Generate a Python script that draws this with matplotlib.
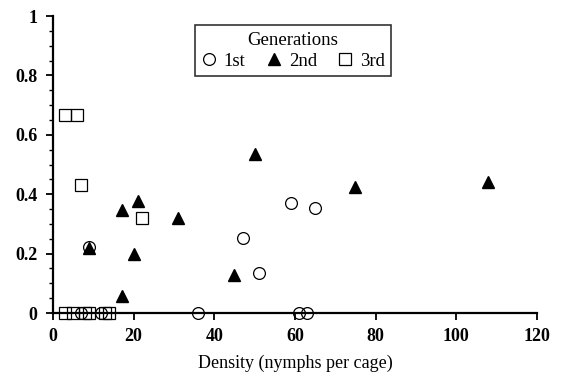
import matplotlib
matplotlib.use("Agg")
from matplotlib import pyplot as plt
from matplotlib.ticker import MultipleLocator

# 1st generation
gen1_x = [9, 47, 51, 59, 65, 36, 61, 63, 7, 12]
gen1_y = [0.222, 0.254, 0.136, 0.371, 0.352, 0, 0, 0, 0, 0]

# 2nd generation
gen2_x = [9, 17, 21, 20, 17, 31, 50, 45, 75, 108]
gen2_y = [0.218, 0.347, 0.378, 0.199, 0.057, 0.319, 0.535, 0.128, 0.425, 0.44]

# 3rd generation
gen3_x = [3, 6, 7, 22, 3, 5, 8, 9, 13, 14]
gen3_y = [0.667, 0.667, 0.43, 0.319, 0, 0, 0, 0, 0, 0]

x_ticks = [0, 20, 40, 60, 80, 100, 120]
y_ticks = [0, 0.2, 0.4, 0.6, 0.8, 1]
y_tick_labels = ["0", "0.2", "0.4", "0.6", "0.8", "1"]

plt.rcParams['font.family'] = ['Liberation Serif', 'DejaVu Serif']

fig = plt.figure(figsize=(5.61, 3.82), dpi=100)
ax = fig.add_axes([0.0945, 0.1806, 0.8625, 0.7774])

ax.plot(gen1_x, gen1_y, linestyle='none', marker='o', markersize=8.5,
        markerfacecolor='none', markeredgecolor='black', markeredgewidth=0.9, label='1st', clip_on=False)
ax.plot(gen2_x, gen2_y, linestyle='none', marker='^', markersize=8,
        markerfacecolor='black', markeredgecolor='black', label='2nd', clip_on=False)
ax.plot(gen3_x, gen3_y, linestyle='none', marker='s', markersize=8,
        markerfacecolor='none', markeredgecolor='black', markeredgewidth=0.9, label='3rd', clip_on=False)

ax.set_xlim(0, 120)
ax.set_ylim(0, 1)
ax.set_xticks(x_ticks)
ax.set_yticks(y_ticks)
ax.set_yticklabels(y_tick_labels)
ax.yaxis.set_minor_locator(MultipleLocator(0.05))

for lab in ax.get_xticklabels() + ax.get_yticklabels():
    lab.set_fontweight('bold')
    lab.set_fontsize(13)

ax.tick_params(axis='both', direction='out', width=1.3, length=5, pad=6)
ax.tick_params(axis='y', which='minor', direction='out', width=1, length=3)

ax.set_xlabel('Density (nymphs per cage)', fontsize=13, labelpad=7)

# Remove top and right borders
ax.spines['top'].set_visible(False)
ax.spines['right'].set_visible(False)
ax.spines['left'].set_linewidth(1.6)
ax.spines['bottom'].set_linewidth(1.6)

leg = ax.legend(title='Generations', ncol=3, loc='upper center', bbox_to_anchor=(0.496, 1.0),
                fontsize=13.5, title_fontsize=13.5, frameon=True, fancybox=False,
                handlelength=0.8, handletextpad=0.4, columnspacing=1.1, borderpad=0.35,
                labelspacing=0.2)
leg.get_frame().set_edgecolor('black')
leg.get_frame().set_linewidth(1.2)

fig.savefig('out.png', dpi=100)
